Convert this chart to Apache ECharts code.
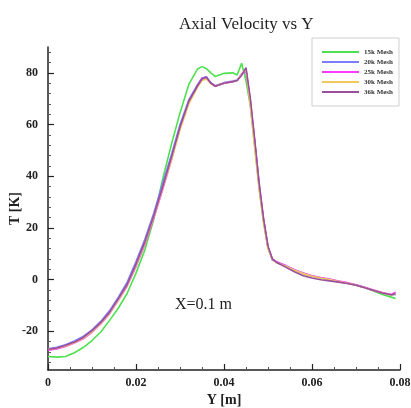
<!DOCTYPE html>
<html>
<head>
<meta charset="utf-8">
<script src="https://cdn.jsdelivr.net/npm/echarts@6/dist/echarts.min.js"></script>
<style>
html,body{margin:0;padding:0;background:#fff;}
#chart{width:411px;height:408px;}
</style>
</head>
<body>
<div id="chart"></div>
<script>
// Y position [m] (horizontal axis)
var yPos = [0, 0.002, 0.004, 0.006, 0.008, 0.010, 0.012, 0.014, 0.016, 0.018, 0.020, 0.022, 0.024, 0.026, 0.028, 0.030, 0.032, 0.034, 0.035, 0.036, 0.037, 0.038, 0.040, 0.042, 0.043, 0.044, 0.045, 0.046, 0.047, 0.048, 0.049, 0.050, 0.051, 0.052, 0.054, 0.056, 0.058, 0.060, 0.062, 0.064, 0.066, 0.068, 0.070, 0.072, 0.074, 0.076, 0.078, 0.079];

var v15k = [-29.8, -30, -29.8, -28.3, -26.3, -23.6, -20.3, -15.8, -11, -5.3, 2.5, 11.4, 23, 38.5, 52, 64.5, 75.5, 81.5, 82.4, 81.6, 80, 78.6, 79.8, 80, 79.2, 83.7, 77, 67, 51, 35, 22, 12, 7.8, 6.5, 5.2, 3.6, 2.3, 1.3, 0.6, 0, -0.8, -1.4, -2.2, -3.2, -4.4, -5.8, -6.8, -7.3];
var v20k = [-26.8, -26.2, -25.2, -23.8, -22, -19.5, -16.2, -12, -6.8, -1, 7, 15.5, 25.5, 37, 48, 60, 69.5, 75.5, 78, 78.5, 76.2, 75, 76.2, 76.8, 77.2, 79.5, 80.5, 68, 53, 37, 23, 12.5, 7.5, 6.8, 5.4, 3.8, 2.4, 1.4, 0.6, 0, -0.7, -1.3, -2.1, -3.1, -4.2, -5.2, -6, -5.8];
var v25k = [-27.3, -26.9, -25.9, -24.6, -22.9, -20.4, -17.2, -13.2, -8, -2.5, 5, 13.5, 23.5, 34.5, 46, 58.5, 68.5, 75, 77.8, 78.2, 76, 74.8, 76, 76.6, 77, 79.6, 81.2, 69, 53, 36, 23, 12.5, 8, 6.8, 5.4, 3.8, 2.5, 1.5, 0.8, 0.2, -0.6, -1.2, -2, -3, -4, -5, -5.8, -4.9];
var v30k = [-27, -26.6, -25.7, -24.4, -22.7, -20.2, -17, -13, -7.8, -2.2, 5.5, 14, 24, 35, 46, 58, 68, 74.5, 77, 77.6, 75.8, 74.8, 76, 76.6, 77, 79.3, 81.5, 67, 51, 35, 22, 12, 7.8, 6.5, 5.2, 3.6, 2.3, 1.3, 0.6, 0, -0.8, -1.4, -2.2, -3.2, -4.2, -5.2, -6, -5.6];
var v36k = [-27, -26.5, -25.4, -24.2, -22.4, -19.8, -16.6, -12.6, -7.4, -1.8, 6, 14.5, 24.5, 35.5, 47, 59, 69, 75, 77.6, 78.3, 76, 74.8, 76, 76.6, 77, 79, 82, 70, 54, 37, 23.5, 13, 8, 6.6, 4.8, 3, 1.5, 0.6, -0.1, -0.5, -1, -1.5, -2.2, -3.2, -4.2, -5.2, -5.9, -5.5];

var seriesNames = ['15k Mesh', '20k Mesh', '25k Mesh', '30k Mesh', '36k Mesh'];
var seriesColors = ['#4fe04f', '#7d7dff', '#ff3cff', '#f2c85a', '#9a4f9e'];
var seriesValues = [v15k, v20k, v25k, v30k, v36k];

var yMajorTicks = [-20, 0, 20, 40, 60, 80];
var yMinorTicks = [-32, -28, -24, -16, -12, -8, -4, 4, 8, 12, 16, 24, 28, 32, 36, 44, 48, 52, 56, 64, 68, 72, 76, 84, 88];
var xTicks = [0, 0.02, 0.04, 0.06, 0.08];

var serifFont = '"Liberation Serif", "DejaVu Serif", serif';

function pairs(xs, ys) {
  return xs.map(function (x, i) { return [x, ys[i]]; });
}

var chart = echarts.init(document.getElementById('chart'), null, {renderer: 'canvas'});

var series = seriesNames.map(function (name, i) {
  return {
    name: name,
    type: 'line',
    data: pairs(yPos, seriesValues[i]),
    showSymbol: false,
    smooth: false,
    lineStyle: {color: seriesColors[i], width: 1.6},
    itemStyle: {color: seriesColors[i]},
    xAxisIndex: 0,
    yAxisIndex: 0,
    z: 2 + i
  };
});

var option = {
  animation: false,
  backgroundColor: '#ffffff',
  title: {
    text: 'Axial Velocity vs Y',
    left: 174,
    top: 11,
    textStyle: {fontFamily: serifFont, fontSize: 17, fontWeight: 'normal', color: '#222'}
  },
  legend: {
    data: seriesNames,
    orient: 'vertical',
    left: 312,
    top: 38,
    width: 96,
    padding: [10, 6, 10, 10],
    itemGap: 2,
    itemWidth: 37,
    itemHeight: 2,
    icon: 'rect',
    backgroundColor: '#fff',
    borderColor: '#cfcfcf',
    borderWidth: 1,
    textStyle: {fontFamily: serifFont, fontSize: 7, fontWeight: 'bold', color: '#333', lineHeight: 8}
  },
  grid: {left: 48, right: 11, top: 47, bottom: 38, containLabel: false, outerBoundsMode: 'none'},
  xAxis: [{
    type: 'value',
    min: 0,
    max: 0.08,
    interval: 0.02,
    name: 'Y [m]',
    nameLocation: 'middle',
    nameGap: 23,
    nameMoveOverlap: false,
    nameTextStyle: {fontFamily: serifFont, fontSize: 14, fontWeight: 'bold', color: '#222'},
    axisLine: {show: true, onZero: false, lineStyle: {color: '#222', width: 1.5}},
    axisTick: {show: true, inside: true, length: 6, lineStyle: {color: '#222', width: 1.2}},
    minorTick: {show: true, splitNumber: 4, length: 3, lineStyle: {color: '#555', width: 1}},
    axisLabel: {
      margin: 7,
      fontFamily: serifFont, fontSize: 12, fontWeight: 'bold', color: '#222',
      customValues: xTicks,
      formatter: function (v) { return String(+v.toFixed(2)); }
    },
    splitLine: {show: false}
  }],
  yAxis: [{
    type: 'value',
    min: -35,
    max: 90,
    name: 'T [K]',
    nameLocation: 'middle',
    nameRotate: 90,
    nameGap: 26,
    nameMoveOverlap: false,
    nameTextStyle: {fontFamily: serifFont, fontSize: 14, fontWeight: 'bold', color: '#222'},
    axisLine: {show: true, onZero: false, lineStyle: {color: '#222', width: 1.5}},
    axisTick: {show: true, inside: true, length: 6, customValues: yMajorTicks, lineStyle: {color: '#222', width: 1.2}},
    axisLabel: {
      margin: 10,
      fontFamily: serifFont, fontSize: 12, fontWeight: 'bold', color: '#222',
      customValues: yMajorTicks
    },
    splitLine: {show: false}
  }, {
    type: 'value',
    min: -35,
    max: 90,
    position: 'left',
    offset: 0,
    axisLine: {show: false},
    axisTick: {show: true, inside: true, length: 3, customValues: yMinorTicks, lineStyle: {color: '#555', width: 1}},
    axisLabel: {show: false},
    splitLine: {show: false}
  }],
  graphic: [{
    type: 'text',
    left: 175,
    top: 297,
    style: {text: 'X=0.1 m', font: '16px ' + serifFont, fill: '#222'}
  }],
  series: series
};

chart.setOption(option);
</script>
</body>
</html>
